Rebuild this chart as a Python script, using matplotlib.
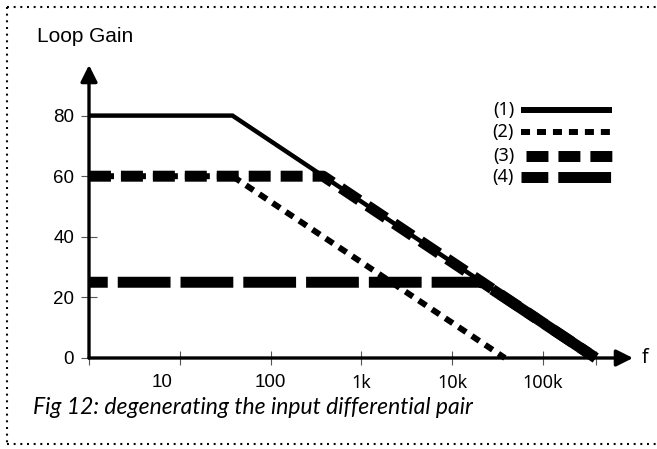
"""Loop gain vs frequency (Bode asymptotes) for four input-pair variants, Fig 12."""
import numpy as np
import matplotlib
matplotlib.use("Agg")
import matplotlib.pyplot as plt
from matplotlib.lines import Line2D
from matplotlib.ticker import NullLocator

plt.rcParams["font.family"] = ["Liberation Sans", "DejaVu Sans"]
plt.rcParams["lines.scale_dashes"] = False   # dash lengths in points

# --- data (asymptotic Bode curves, f in Hz, gain in dB) ---
f1 = [1, 38, 3.8e5];  g1 = [80, 80, 0]
f2 = [1, 38, 3.8e4];  g2 = [60, 60, 0]
f3 = [1, 380, 3.8e5]; g3 = [60, 60, 0]
f4 = [1, 2.1e4, 3.8e5]; g4 = [25, 25, 0]
labels = ["(1)", "(2)", "(3)", "(4)"]

y_ticks = [0, 20, 40, 60, 80]
x_ticks = [1, 10, 100, 1e3, 1e4, 1e5, 3.8e5]
x_tick_text = ["10", "100", "1k", "10k", "100k"]
x_tick_text_pos = [10 ** 0.8, 1e2, 1e3, 1e4, 1e5]

W, H = 657, 449
fx = lambda px: px / W
fy = lambda py: 1 - py / H

# line styles: (lw plot, lw legend, linestyle plot, linestyle legend)
styles = [
    (3.2, 4.3, "-", "-"),
    (4.3, 4.3, (0, (6.5, 5.0)), (0, (6.5, 5.0))),
    (7.9, 7.9, (0, (15.8, 7.2)), (19.4, (15.8, 7.2))),
    (7.9, 7.9, (24.5, (38.0, 7.2)), (18.7, (38.0, 7.2))),
]

fig = plt.figure(figsize=(W / 100, H / 100), dpi=100)
ax = fig.add_axes([fx(89), fy(358), fx(633) - fx(89), fy(65) - fy(358)])
ax.set_xscale("log")
ax.set_xlim(1, 10 ** 5.99)
ax.set_ylim(0, 96.7)

for (f, g), (lw, _, ls, _) in zip([(f1, g1), (f2, g2), (f3, g3), (f4, g4)], styles):
    ax.plot(f, g, color="k", lw=lw, linestyle=ls, solid_capstyle="butt",
            dash_capstyle="butt", solid_joinstyle="miter", clip_on=False, zorder=3)

# axes with arrow heads
for s in ax.spines.values():
    s.set_visible(False)
arr = dict(arrowstyle="-|>,head_length=1.0,head_width=0.5", color="k", lw=2.4,
           shrinkA=0, shrinkB=0, mutation_scale=10)
ax.annotate("", xy=(1, 0), xytext=(0, 0), xycoords="axes fraction", arrowprops=arr, zorder=4)
ax.annotate("", xy=(0, 1), xytext=(0, 0), xycoords="axes fraction", arrowprops=arr, zorder=4)

ax.set_xticks(x_ticks)
ax.set_xticklabels([])
ax.xaxis.set_minor_locator(NullLocator())
ax.tick_params(axis="x", direction="inout", length=9.4, width=0.8, color="#555555")
ax.set_yticks(y_ticks)
ax.tick_params(axis="y", direction="inout", length=11.5, width=0.8, color="#555555",
               pad=5.0, labelsize=13.5)

for pos, txt in zip(x_tick_text_pos, x_tick_text):
    fam = "Noto Sans" if "k" in txt else "Liberation Sans"
    ax.text(pos, -0.085, txt, transform=ax.get_xaxis_transform(), ha="center",
            va="center", fontsize=13.5 if fam == "Liberation Sans" else 13, family=fam)
ax.text(1.022, 0, "f", transform=ax.transAxes, ha="center", va="center",
        fontsize=14, family="Noto Sans")

fig.text(fx(37), fy(42), "Loop Gain", fontsize=15, va="baseline")

# legend drawn by hand (label left, line right)
leg_y = [110, 132, 156, 177]
for y, lab, (_, lwl, _, lsl) in zip(leg_y, labels, styles):
    fig.add_artist(Line2D([fx(521), fx(612)], [fy(y), fy(y)], transform=fig.transFigure,
                          color="k", lw=lwl, linestyle=lsl, solid_capstyle="butt",
                          dash_capstyle="butt"))
    fig.text(fx(514), fy(y), lab, ha="right", va="center", fontsize=13, family="Noto Sans")

fig.text(fx(33), fy(407), "Fig 12: degenerating the input differential pair",
         fontsize=16.5, style="italic", family=["Lato", "DejaVu Sans"], va="center")

# dotted frame
dot = dict(transform=fig.transFigure, color="k", lw=1.5, linestyle=(0, (1.4, 3.4)),
           dash_capstyle="butt")
fig.add_artist(Line2D([fx(7), fx(W)], [fy(7), fy(7)], **dot))
fig.add_artist(Line2D([fx(7), fx(7)], [fy(7), fy(444)], **dot))
fig.add_artist(Line2D([fx(7), fx(W)], [fy(444), fy(444)], **dot))

fig.savefig("out.png", dpi=100)
